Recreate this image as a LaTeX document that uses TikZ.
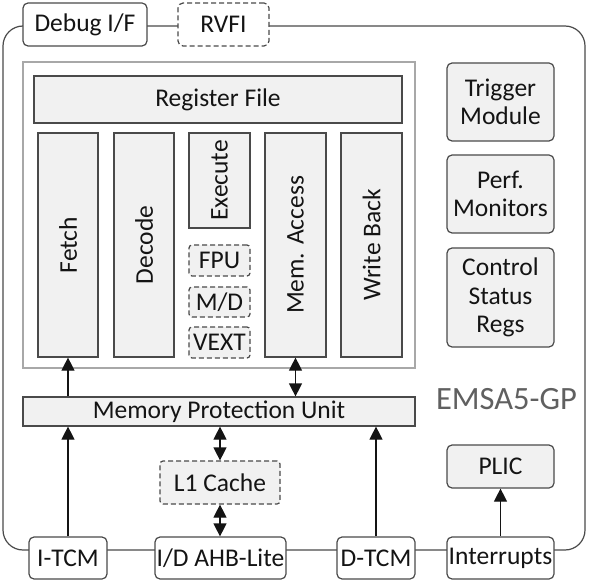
\documentclass[tikz,border=0pt]{standalone}
\usepackage{fontspec}
\setmainfont{Carlito}
\usetikzlibrary{arrows.meta}
\definecolor{boxfill}{HTML}{F1F1F1}
\definecolor{boxline}{HTML}{4A4A4A}
\definecolor{frameline}{HTML}{A8A8A8}
\definecolor{txt}{HTML}{141414}
\definecolor{labelgray}{HTML}{606060}
\begin{document}
\begin{tikzpicture}[x=1pt,y=-1pt,
  every node/.style={font=\fontsize{25.5}{28.5}\selectfont, text=txt, align=center, inner sep=0pt},
  blk/.style={draw=boxline, line width=1.2pt, fill=boxfill, minimum width=#1},
  blk/.default=60pt,
  rblk/.style={blk=#1, rounded corners=5pt},
  rblk/.default=107pt,
  wblk/.style={rblk=#1, fill=white},
  dblk/.style={draw=boxline, line width=1.2pt, dashed, dash pattern=on 5pt off 3pt, rounded corners=3pt, fill=boxfill, minimum width=#1},
  dblk/.default=61pt,
  arr/.style={line width=1.2pt, draw=txt, -{Triangle[width=13pt,length=13pt]}},
  darr/.style={line width=1.2pt, draw=txt, {Triangle[width=13pt,length=13pt]}-{Triangle[width=13pt,length=13pt]}}
]
\useasboundingbox (0,0) rectangle (600,588);

% outer frame
\draw[boxline, line width=1.2pt, rounded corners=20pt] (3,26) rectangle (585,550);

% inner pipeline frame
\draw[frameline, line width=1.5pt] (23,62) rectangle (415,368);

% top interface boxes
\node[wblk=124pt, minimum height=43pt] (debug) at (85,24.5) {Debug I/F};
\node[dblk=91pt, minimum height=43pt, fill=white, rounded corners=5pt] (rvfi) at (223.5,24.5) {RVFI};

% register file
\node[blk=368pt, minimum height=47pt] (regfile) at (218,99.5) {Register File};

% pipeline stages
\node[blk=60pt, minimum height=224pt] (fetch) at (68,245) {\rotatebox{90}{Fetch}};
\node[blk=60pt, minimum height=224pt] (decode) at (144,245) {\rotatebox{90}{Decode}};
\node[blk=61pt, minimum height=95pt] (execute) at (219.5,180.5) {\rotatebox{90}{Execute}};
\node[dblk, minimum height=31pt] (fpu) at (219.5,260.5) {FPU};
\node[dblk, minimum height=30pt] (md) at (219.5,302) {M/D};
\node[dblk, minimum height=31pt] (vext) at (219.5,342.5) {VEXT};
\node[blk=61pt, minimum height=224pt] (mem) at (295.5,245) {\rotatebox{90}{Mem. Access}};
\node[blk=61pt, minimum height=224pt] (wb) at (371.5,245) {\rotatebox{90}{Write Back}};

% right column
\node[rblk, minimum height=78pt] (trigger) at (500.5,102) {Trigger\\Module};
\node[rblk, minimum height=78pt] (perf) at (500.5,194) {Perf.\\Monitors};
\node[rblk, minimum height=99pt] (csr) at (500.5,297.5) {Control\\Status\\Regs};

% memory protection unit and cache
\node[blk=392pt, minimum height=29pt] (mpu) at (219,411.5) {Memory Protection Unit};
\node[dblk=120pt, minimum height=43pt] (l1) at (220,482.5) {L1 Cache};

% label
\node[font=\fontsize{32.5}{36}\selectfont, text=labelgray] (name) at (506.5,399) {EMSA5-GP};

% PLIC
\node[rblk, minimum height=43pt] (plic) at (500.5,466.5) {PLIC};

% bottom interface boxes
\node[wblk=78pt, minimum height=42pt] (itcm) at (68,558) {I-TCM};
\node[wblk=131pt, minimum height=42pt] (ahb) at (220.5,558) {I/D AHB-Lite};
\node[wblk=78pt, minimum height=42pt] (dtcm) at (376,558) {D-TCM};
\node[wblk=107pt, minimum height=42pt] (intr) at (500.5,558) {Interrupts};

% connectors
\draw[arr] (fetch.south |- mpu.north) -- (fetch.south);
\draw[darr] (mem.south) -- (mem.south |- mpu.north);
\draw[arr] (itcm.north) -- (itcm.north |- mpu.south);
\draw[darr] (l1.north) -- (l1.north |- mpu.south);
\draw[darr] (ahb.north -| l1.south) -- (l1.south);
\draw[arr] (dtcm.north) -- (dtcm.north |- mpu.south);
\draw[arr] (intr.north) -- (plic.south);
\end{tikzpicture}
\end{document}
